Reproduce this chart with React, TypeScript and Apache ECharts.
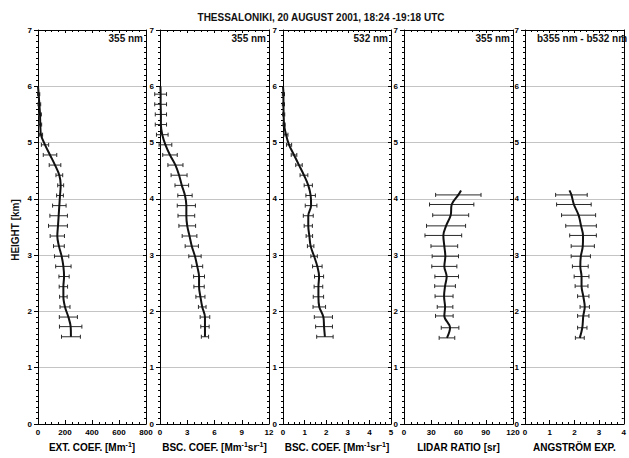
import React, { useEffect, useRef } from "react";
import * as echarts from "echarts";

const FONT = "'Liberation Sans', Arial, Helvetica, sans-serif";

const titleText = "THESSALONIKI, 20 AUGUST 2001, 18:24 -19:18 UTC";
const yAxisName = "HEIGHT [km]";

// heights (km) of the 355/532 nm extinction & backscatter points
const heightsCoef = [1.55, 1.73, 1.90, 2.08, 2.26, 2.44, 2.62, 2.80, 2.98, 3.16, 3.34, 3.52, 3.70, 3.88, 4.06, 4.24, 4.42, 4.60, 4.78, 4.96, 5.14, 5.32, 5.50, 5.68, 5.86];

const extValues = [244, 242, 225, 200, 188, 188, 193, 188, 175, 155, 143, 148, 153, 158, 163, 168, 158, 126, 89, 52, 22, 17, 15, 10, 5];
const extErrors = [70, 83, 67, 37, 28, 31, 38, 57, 53, 40, 53, 70, 65, 50, 25, 22, 25, 43, 50, 27, 12, 10, 10, 10, 8];

const bsc355Values = [4.95, 4.95, 4.95, 4.65, 4.45, 4.30, 4.30, 4.10, 3.85, 3.50, 3.25, 3.00, 2.90, 2.90, 2.75, 2.40, 2.10, 1.70, 1.10, 0.60, 0.25, 0.10, 0.10, 0.07, 0.07];
const bsc355Errors = [0.40, 0.46, 0.53, 0.42, 0.50, 0.57, 0.60, 0.60, 0.68, 0.73, 0.81, 0.92, 0.92, 1.00, 0.79, 0.75, 0.88, 0.83, 0.80, 0.70, 0.64, 0.62, 0.62, 0.65, 0.65];

const bsc532Values = [1.94, 1.90, 1.87, 1.68, 1.64, 1.64, 1.67, 1.59, 1.44, 1.28, 1.22, 1.17, 1.17, 1.30, 1.28, 1.17, 0.97, 0.74, 0.51, 0.28, 0.14, 0.05, 0.03, 0.02, 0.02];
const bsc532Errors = [0.38, 0.39, 0.42, 0.29, 0.24, 0.20, 0.21, 0.22, 0.15, 0.15, 0.15, 0.19, 0.23, 0.27, 0.22, 0.19, 0.18, 0.15, 0.13, 0.12, 0.09, 0.05, 0.05, 0.05, 0.05];

// heights (km) of the lidar ratio & Angstrom exponent points
const heightsRatio = [1.53, 1.71, 1.92, 2.08, 2.27, 2.45, 2.62, 2.80, 2.98, 3.16, 3.35, 3.52, 3.71, 3.90, 4.07];

const lidarRatioValues = [47.3, 50.7, 44.4, 45.2, 44.1, 45.2, 47.0, 44.4, 45.5, 44.4, 43.3, 46.3, 51.4, 52.5, 59.8];
const lidarRatioErrors = [8.6, 9.7, 9.7, 8.6, 9.9, 11.4, 13.0, 13.8, 14.5, 14.7, 20.2, 21.5, 19.8, 24.4, 25.0];

const angstromValues = [2.22, 2.32, 2.36, 2.42, 2.36, 2.29, 2.29, 2.24, 2.26, 2.34, 2.35, 2.27, 2.17, 1.98, 1.88];
const angstromErrors = [0.18, 0.19, 0.23, 0.19, 0.23, 0.26, 0.30, 0.32, 0.39, 0.47, 0.54, 0.62, 0.69, 0.70, 0.64];

// top end of each profile line: [value, height]
const extTop = [0, 6.0];
const bsc355Top = [0.05, 6.0];
const bsc532Top = [0, 6.0];
const lidarRatioTop = [62.8, 4.15];
const angstromTop = [1.80, 4.15];

const xMax = [800, 12, 5, 120, 4];
const xInterval = [200, 3, 1, 30, 1];
const xNames = [
  "EXT. COEF. [Mm{s|-1}]",
  "BSC. COEF. [Mm{s|-1}sr{s|-1}]",
  "BSC. COEF. [Mm{s|-1}sr{s|-1}]",
  "LIDAR RATIO [sr]",
  "ANGSTRÖM EXP.",
];
const panelTags = ["355 nm", "355 nm", "532 nm", "355 nm", "b355 nm - b532 nm"];

const gridLefts = [38, 160, 283, 404, 525];
const gridWidths = [108, 109, 108, 109, 110];
const GRID_TOP = 30;
const GRID_H = 397;

const profiles = [
  { h: heightsCoef, v: extValues, e: extErrors, top: extTop },
  { h: heightsCoef, v: bsc355Values, e: bsc355Errors, top: bsc355Top },
  { h: heightsCoef, v: bsc532Values, e: bsc532Errors, top: bsc532Top },
  { h: heightsRatio, v: lidarRatioValues, e: lidarRatioErrors, top: lidarRatioTop },
  { h: heightsRatio, v: angstromValues, e: angstromErrors, top: angstromTop },
];

export default function App() {
  const ref = useRef<HTMLDivElement>(null);
  useEffect(() => {
    if (!ref.current) return;
    const chart = echarts.init(ref.current, null, { renderer: "svg" });
    const grids: any[] = [];
    const xAxes: any[] = [];
    const yAxes: any[] = [];
    const series: any[] = [];
    const graphics: any[] = [];
    const axisColor = "#000";

    profiles.forEach((p, i) => {
      grids.push({ left: gridLefts[i], top: GRID_TOP, width: gridWidths[i], height: GRID_H });
      // bottom x axis
      xAxes.push({
        type: "value", gridIndex: i, position: "bottom", min: 0, max: xMax[i], interval: xInterval[i],
        axisLine: { show: true, onZero: false, lineStyle: { color: axisColor, width: 1 } },
        axisTick: { show: true, inside: true, length: 4, lineStyle: { color: axisColor } },
        minorTick: { show: true, splitNumber: 4, length: 2, lineStyle: { color: axisColor } },
        axisLabel: { show: true, fontSize: 8, fontWeight: "bold", fontFamily: FONT, color: axisColor, margin: 4, showMaxLabel: true, showMinLabel: true },
        splitLine: { show: false },
        name: xNames[i], nameLocation: "middle", nameGap: 17,
        nameTextStyle: {
          fontSize: 10, fontWeight: "bold", fontFamily: FONT, color: axisColor, lineHeight: 12,
          rich: { s: { fontSize: 7, fontWeight: "bold", fontFamily: FONT, color: axisColor, verticalAlign: "top", lineHeight: 7 } },
        },
      });
      // top x axis (frame)
      xAxes.push({
        type: "value", gridIndex: i, position: "top", min: 0, max: xMax[i], interval: xInterval[i],
        axisLine: { show: true, onZero: false, lineStyle: { color: axisColor, width: 1 } },
        axisTick: { show: true, inside: true, length: 3, lineStyle: { color: axisColor } },
        minorTick: { show: true, splitNumber: 4, length: 2, lineStyle: { color: axisColor } },
        axisLabel: { show: false }, splitLine: { show: false },
      });
      // left y axis
      yAxes.push({
        type: "value", gridIndex: i, position: "left", min: 0, max: 7, interval: 1,
        axisLine: { show: true, onZero: false, lineStyle: { color: axisColor, width: 1 } },
        axisTick: { show: true, inside: false, length: 4, lineStyle: { color: axisColor } },
        minorTick: { show: true, splitNumber: 10, length: 2, lineStyle: { color: axisColor } },
        axisLabel: { show: true, fontSize: 8, fontWeight: "bold", fontFamily: FONT, color: "#000", opacity: 1, margin: 6, showMaxLabel: true, showMinLabel: true },
        splitLine: { show: true, lineStyle: { color: "#c4c4c4", width: 1 } },
      });
      // right y axis (frame)
      yAxes.push({
        type: "value", gridIndex: i, position: "right", min: 0, max: 7, interval: 1,
        axisLine: { show: true, onZero: false, lineStyle: { color: axisColor, width: 1 } },
        axisTick: { show: true, inside: true, length: 3, lineStyle: { color: axisColor } },
        minorTick: { show: true, splitNumber: 10, length: 2, lineStyle: { color: axisColor } },
        axisLabel: { show: false }, splitLine: { show: false },
      });

      const barData = p.v.map((v, k) => [v, p.e[k], p.h[k]]);
      const lineData = p.v.map((v, k) => [v, p.h[k]]);
      lineData.push([p.top[0], p.top[1]]);

      series.push({
        type: "custom", xAxisIndex: i * 2, yAxisIndex: i * 2, data: barData,
        encode: { x: 0, y: 2 }, z: 2, silent: true,
        renderItem: (params: any, api: any) => {
          const c = api.value(0);
          const e = api.value(1);
          const h = api.value(2);
          const a = api.coord([c - e, h]);
          const b = api.coord([c + e, h]);
          const st = { stroke: "#2a2a2a", lineWidth: 1 };
          const cap = 2;
          return {
            type: "group",
            children: [
              { type: "line", shape: { x1: a[0], y1: a[1], x2: b[0], y2: b[1] }, style: st },
              { type: "line", shape: { x1: a[0], y1: a[1] - cap, x2: a[0], y2: a[1] + cap }, style: st },
              { type: "line", shape: { x1: b[0], y1: b[1] - cap, x2: b[0], y2: b[1] + cap }, style: st },
            ],
          };
        },
      });
      series.push({
        type: "line", xAxisIndex: i * 2, yAxisIndex: i * 2, data: lineData,
        smooth: 0.35, symbol: "none", z: 3, silent: true,
        lineStyle: { color: "#111", width: 2 },
      });

      const isLast = i === 4;
      graphics.push({
        type: "text",
        x: isLast ? gridLefts[i] + 12 : gridLefts[i] + gridWidths[i] - 3,
        y: 38,
        style: {
          text: panelTags[i], fontSize: 10, fontWeight: "bold", fontFamily: FONT, fill: "#111",
          textAlign: isLast ? "left" : "right", textVerticalAlign: "middle",
        },
      });
    });

    graphics.push({
      type: "text", x: 321, y: 17,
      style: { text: titleText, fontSize: 10, fontWeight: "bold", fontFamily: FONT, fill: "#111", textAlign: "center", textVerticalAlign: "middle" },
    });
    graphics.push({
      type: "text", x: 15, y: 230, rotation: Math.PI / 2,
      style: { text: yAxisName, fontSize: 10, fontWeight: "bold", fontFamily: FONT, fill: "#111", textAlign: "center", textVerticalAlign: "middle" },
    });

    chart.setOption({
      animation: false,
      backgroundColor: "#ffffff",
      grid: grids,
      xAxis: xAxes,
      yAxis: yAxes,
      series,
      graphic: graphics,
    });
    return () => chart.dispose();
  }, []);
  return (
    <div
      ref={ref}
      style={{ position: "absolute", left: 0, top: 0, width: 629, height: 458, background: "#fff" }}
    />
  );
}
